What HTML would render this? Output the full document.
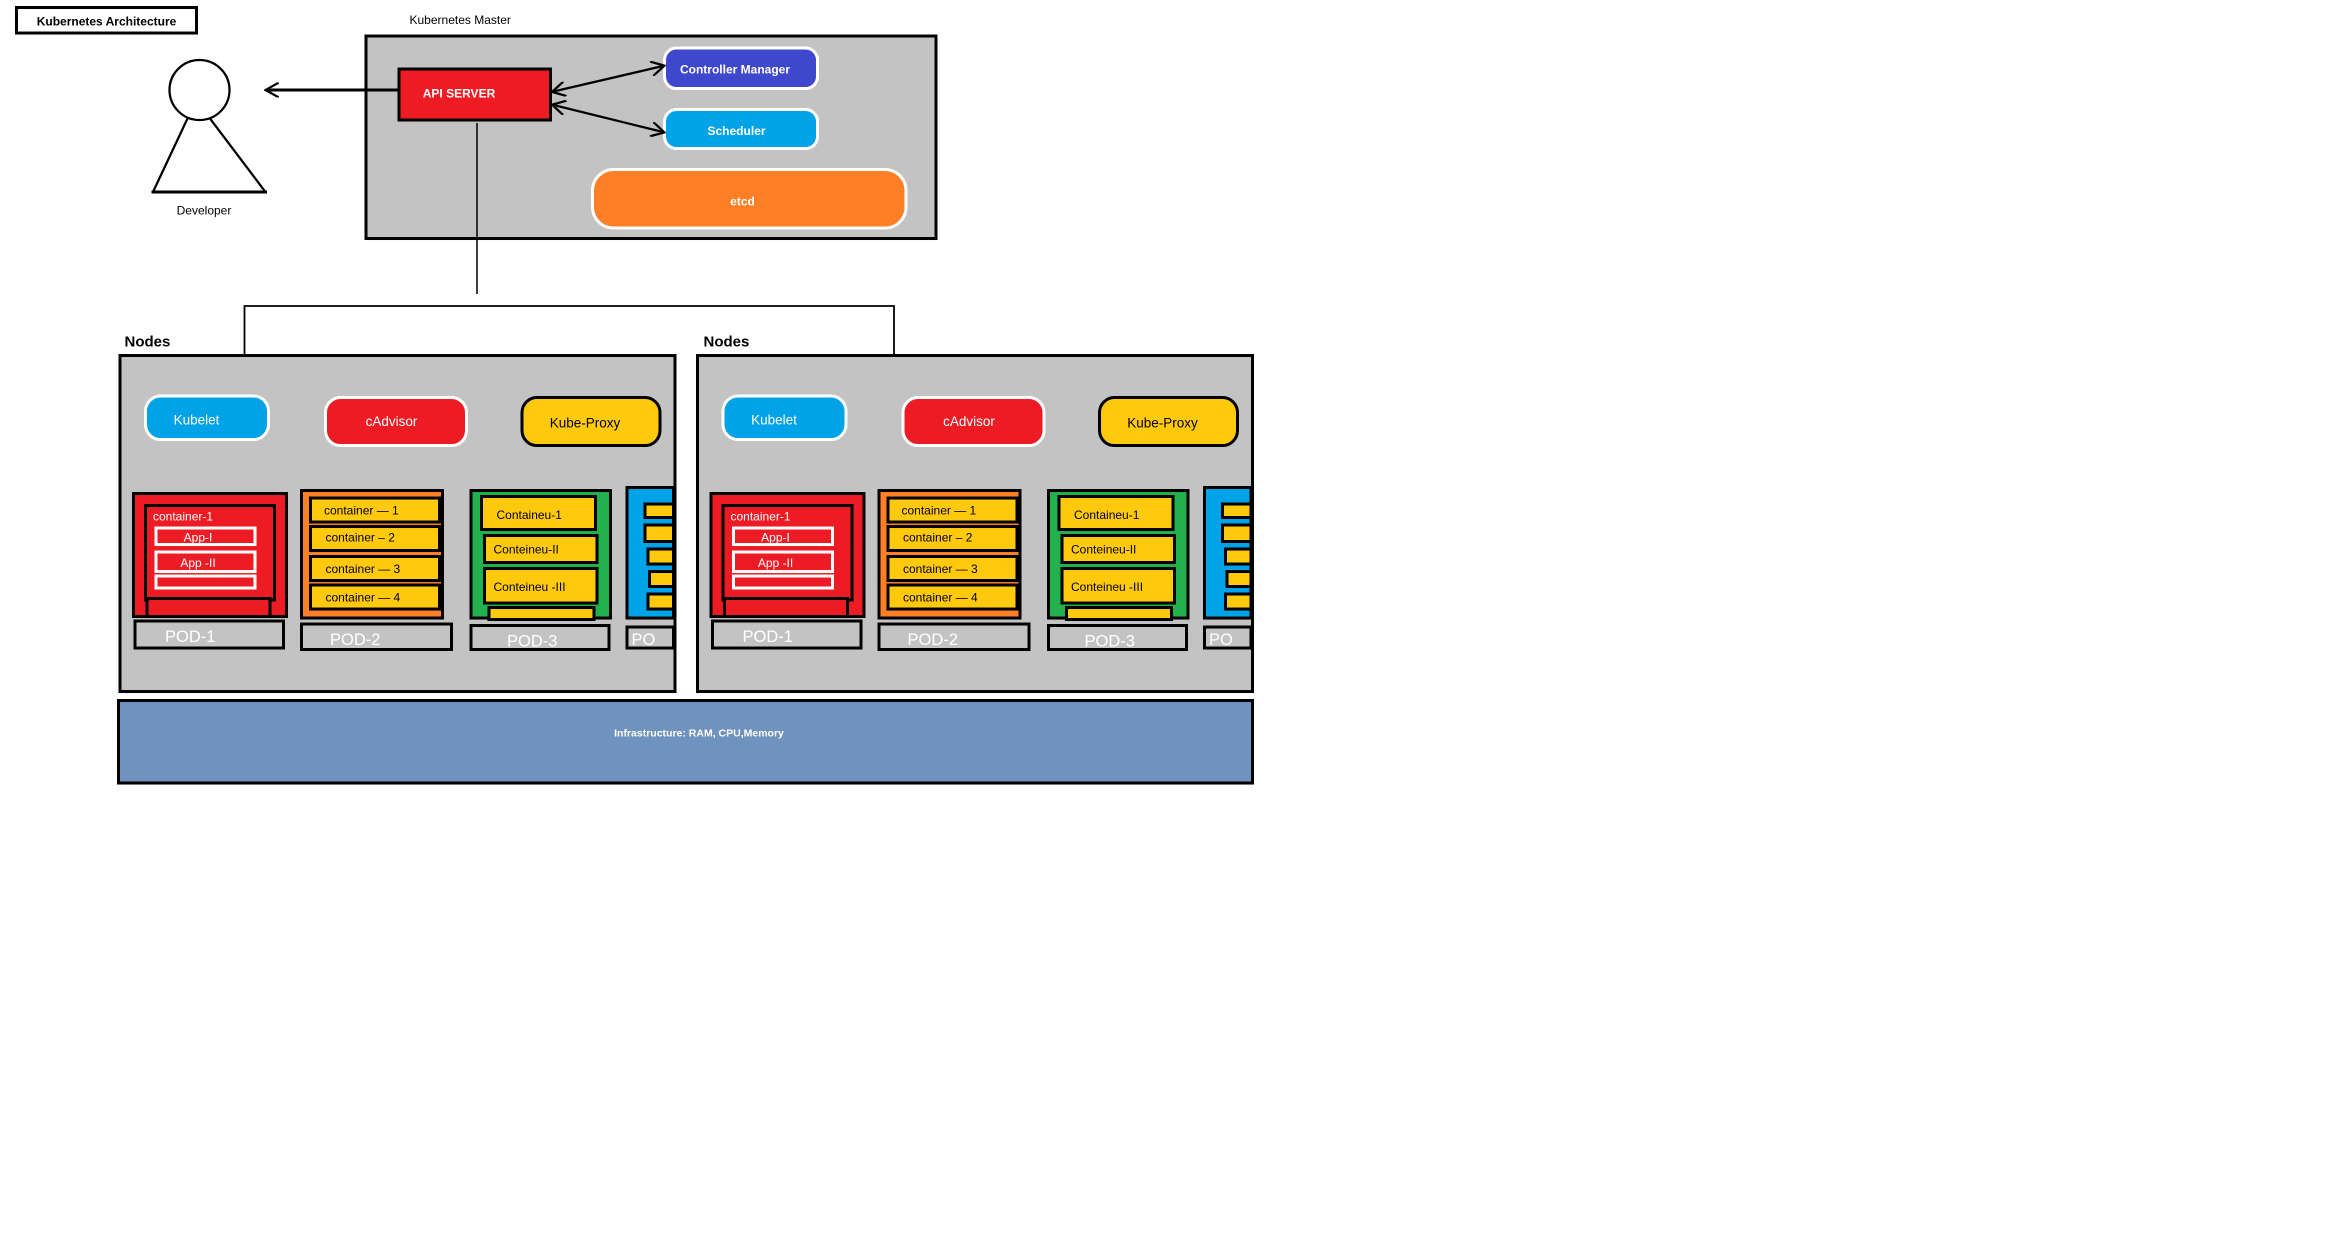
<!DOCTYPE html>
<html><head><meta charset="utf-8"><style>
html,body{margin:0;padding:0;background:#fff;}
svg{display:block;}
text{font-family:"Liberation Sans",sans-serif;}
</style></head><body>
<svg width="2346" height="1256" viewBox="0 0 1564 837.3" xmlns="http://www.w3.org/2000/svg">
<defs>
<marker id="ah" markerWidth="10" markerHeight="10" refX="8" refY="5" orient="auto-start-reverse" markerUnits="userSpaceOnUse">
<path d="M0,0 L9,5 L0,10" fill="none" stroke="#000" stroke-width="1.5"/>
</marker>
<g id="node">
  <rect x="0" y="0" width="370" height="224" fill="#c3c3c3" stroke="#000" stroke-width="2"/>
  <rect x="17" y="27" width="82" height="29" rx="10" fill="#00a2e8" stroke="#fff" stroke-width="2"/>
  <text x="51" y="46" font-size="9" fill="#fff" text-anchor="middle">Kubelet</text>
  <rect x="137" y="28" width="94" height="32" rx="10" fill="#ed1c24" stroke="#fff" stroke-width="2"/>
  <text x="181" y="47" font-size="9" fill="#fff" text-anchor="middle">cAdvisor</text>
  <rect x="268" y="28" width="92" height="32" rx="10" fill="#ffc90e" stroke="#000" stroke-width="2"/>
  <text x="310" y="48" font-size="9" fill="#000" text-anchor="middle">Kube-Proxy</text>
  <!-- POD-1 -->
  <rect x="9" y="92" width="102" height="82" fill="#ed1c24" stroke="#000" stroke-width="2"/>
  <rect x="17" y="100" width="86" height="63" fill="#ed1c24" stroke="#000" stroke-width="2"/>
  <text x="22" y="110" font-size="8" fill="#fff">container-1</text>
  <rect x="24" y="115" width="66" height="11" fill="none" stroke="#fff" stroke-width="2"/>
  <text x="52" y="124" font-size="8" fill="#fff" text-anchor="middle">App-I</text>
  <rect x="24" y="131" width="66" height="13" fill="none" stroke="#fff" stroke-width="2"/>
  <text x="52" y="141" font-size="8" fill="#fff" text-anchor="middle">App -II</text>
  <rect x="24" y="147" width="66" height="8" fill="none" stroke="#fff" stroke-width="2"/>
  <rect x="18" y="162" width="82" height="12" fill="#ed1c24" stroke="#000" stroke-width="2"/>
  <rect x="10" y="177" width="99" height="18" fill="#c3c3c3" stroke="#000" stroke-width="2"/>
  <text x="30" y="191" font-size="11" fill="#fff">POD-1</text>
  <!-- POD-2 -->
  <rect x="121" y="90" width="94" height="85" fill="#ff7f27" stroke="#000" stroke-width="2"/>
  <g fill="#ffc90e" stroke="#000" stroke-width="2">
    <rect x="127" y="95" width="86" height="16"/><rect x="127" y="114" width="86" height="16"/>
    <rect x="127" y="134" width="86" height="16"/><rect x="127" y="153" width="86" height="16"/>
  </g>
  <g font-size="8" fill="#000">
    <text x="136" y="106">container — 1</text><text x="137" y="124">container  – 2</text>
    <text x="137" y="145">container — 3</text><text x="137" y="164">container — 4</text>
  </g>
  <rect x="121" y="179" width="100" height="17" fill="#c3c3c3" stroke="#000" stroke-width="2"/>
  <text x="140" y="193" font-size="11" fill="#fff">POD-2</text>
  <!-- POD-3 -->
  <rect x="234" y="90" width="93" height="85" fill="#22b14c" stroke="#000" stroke-width="2"/>
  <g fill="#ffc90e" stroke="#000" stroke-width="2">
    <rect x="241" y="94" width="76" height="22"/><rect x="243" y="120" width="75" height="18"/>
    <rect x="243" y="142" width="75" height="23"/><rect x="246" y="168" width="70" height="8"/>
  </g>
  <g font-size="8" fill="#000">
    <text x="251" y="109">Containeu-1</text><text x="249" y="132">Conteineu-II</text><text x="249" y="157">Conteineu -III</text>
  </g>
  <rect x="234" y="180" width="92" height="16" fill="#c3c3c3" stroke="#000" stroke-width="2"/>
  <text x="258" y="194" font-size="11" fill="#fff">POD-3</text>
  <!-- POD-4 partial -->
  <rect x="338" y="88" width="31" height="87" fill="#00a2e8" stroke="#000" stroke-width="2"/>
  <g fill="#ffc90e" stroke="#000" stroke-width="2">
    <rect x="350" y="99" width="19" height="9"/><rect x="350" y="113" width="19" height="11"/>
    <rect x="352" y="129" width="17" height="10"/><rect x="353" y="144" width="16" height="10"/>
    <rect x="352" y="159" width="17" height="10"/>
  </g>
  <rect x="338" y="181" width="31" height="14" fill="#c3c3c3" stroke="#000" stroke-width="2"/>
  <text x="341" y="193" font-size="11" fill="#fff">PO</text>
</g>
</defs>

<!-- Title -->
<rect x="11" y="5" width="120" height="17" fill="#fff" stroke="#000" stroke-width="2"/>
<text x="71" y="17" font-size="8" font-weight="bold" text-anchor="middle">Kubernetes Architecture</text>

<!-- Developer -->
<circle cx="133" cy="60" r="20" fill="#fff" stroke="#000" stroke-width="1.5"/>
<path d="M125,79 L102,128 M140,79 L177,128" stroke="#000" stroke-width="1.5" fill="none"/>
<line x1="101" y1="128" x2="178" y2="128" stroke="#000" stroke-width="2"/>
<text x="136" y="143" font-size="8" text-anchor="middle">Developer</text>

<!-- Master -->
<text x="273" y="16" font-size="8">Kubernetes Master</text>
<rect x="244" y="24" width="380" height="135" fill="#c3c3c3" stroke="#000" stroke-width="2"/>
<line x1="266" y1="60" x2="178" y2="60" stroke="#000" stroke-width="2" marker-end="url(#ah)"/>
<rect x="266" y="46" width="101" height="34" fill="#ed1c24" stroke="#000" stroke-width="2"/>
<text x="306" y="65" font-size="8" font-weight="bold" fill="#fff" text-anchor="middle">API SERVER</text>
<rect x="443" y="32" width="102" height="27" rx="8" fill="#3f48cc" stroke="#fff" stroke-width="2"/>
<text x="490" y="49" font-size="8" font-weight="bold" fill="#fff" text-anchor="middle">Controller  Manager</text>
<rect x="443" y="73" width="102" height="26" rx="8" fill="#00a2e8" stroke="#fff" stroke-width="2"/>
<text x="491" y="90" font-size="8" font-weight="bold" fill="#fff" text-anchor="middle">Scheduler</text>
<rect x="395" y="113" width="209" height="39" rx="14" fill="#ff7f27" stroke="#fff" stroke-width="2"/>
<text x="495" y="137" font-size="8" font-weight="bold" fill="#fff" text-anchor="middle">etcd</text>
<line x1="369" y1="61" x2="442" y2="44" stroke="#000" stroke-width="1.5" marker-start="url(#ah)" marker-end="url(#ah)"/>
<line x1="369" y1="70" x2="442" y2="88" stroke="#000" stroke-width="1.5" marker-start="url(#ah)" marker-end="url(#ah)"/>

<!-- Connectors -->
<line x1="318" y1="82" x2="318" y2="196" stroke="#000" stroke-width="1"/>
<path d="M163,237 L163,204 L596,204 L596,237" fill="none" stroke="#000" stroke-width="1.2"/>

<text x="83" y="231" font-size="10" font-weight="bold">Nodes</text>
<text x="469" y="231" font-size="10" font-weight="bold">Nodes</text>

<use href="#node" x="80" y="237"/>
<use href="#node" x="465" y="237"/>

<!-- Infrastructure -->
<rect x="79" y="467" width="756" height="55" fill="#7092be" stroke="#000" stroke-width="2"/>
<text x="466" y="491" font-size="7" font-weight="bold" fill="#fff" text-anchor="middle">Infrastructure: RAM, CPU,Memory</text>
</svg>
</body></html>
